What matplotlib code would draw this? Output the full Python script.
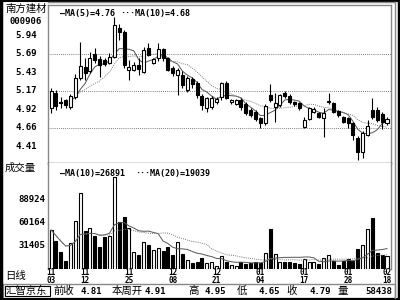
import matplotlib
matplotlib.use('Agg')
import matplotlib.pyplot as plt
import numpy as np
import pandas as pd
from matplotlib.patches import Rectangle
from matplotlib.lines import Line2D

# ---------------- data ----------------
stock_name = "南方建材"
stock_code = "000906"
date_idx = [0, 7, 16, 25, 34, 43, 52, 61, 69]
date_labels = ["11\n03", "11\n12", "11\n25", "12\n08", "12\n21",
               "01\n04", "01\n17", "01\n28", "02\n18"]

opens = [4.94, 5.15, 5.03, 5.05, 4.96, 5.09, 5.36, 5.51, 5.45, 5.69,
         5.62, 5.61, 5.57, 5.65, 6.05, 5.99, 5.47, 5.47, 5.54, 5.44,
         5.77, 5.57, 5.63, 5.76, 5.63, 5.50, 5.40, 5.40, 5.19, 5.34,
         5.29, 5.11, 4.94, 4.96, 5.03, 5.09, 5.29, 5.02, 5.00, 5.05,
         5.00, 4.91, 4.89, 4.80, 4.73, 5.12, 4.96, 4.98, 5.15, 5.11,
         5.02, 5.01, 4.68, 4.79, 4.89, 4.87, 4.80, 5.02, 5.01, 4.90,
         4.81, 4.80, 4.73, 4.52, 4.33, 4.57, 4.91, 4.91, 4.86, 4.73]
closes = [5.18, 4.97, 5.01, 4.98, 5.11, 5.36, 5.53, 5.43, 5.63, 5.61,
          5.54, 5.55, 5.65, 6.09, 5.99, 5.54, 5.51, 5.54, 5.48, 5.75,
          5.68, 5.62, 5.76, 5.63, 5.47, 5.43, 5.47, 5.26, 5.36, 5.27,
          5.12, 4.98, 5.08, 5.08, 5.06, 5.29, 5.08, 5.05, 5.05, 4.95,
          4.87, 4.84, 4.79, 4.73, 4.97, 5.05, 5.01, 5.12, 5.11, 5.02,
          4.99, 4.94, 4.78, 4.94, 4.93, 4.82, 4.87, 5.04, 4.89, 4.84,
          4.75, 4.73, 4.57, 4.33, 4.59, 4.69, 4.81, 4.78, 4.75, 4.79]
highs = [5.22, 5.19, 5.09, 5.07, 5.14, 5.41, 5.86, 5.64, 5.72, 5.77,
         5.66, 5.63, 5.70, 6.20, 6.11, 6.02, 5.61, 5.58, 5.63, 5.79,
         5.84, 5.64, 5.84, 5.78, 5.65, 5.52, 5.50, 5.45, 5.38, 5.37,
         5.31, 5.13, 5.10, 5.11, 5.09, 5.30, 5.32, 5.07, 5.07, 5.08,
         5.02, 4.94, 4.91, 4.82, 4.99, 5.27, 5.15, 5.14, 5.17, 5.13,
         5.04, 5.03, 4.81, 4.96, 4.95, 4.89, 4.94, 5.15, 5.03, 4.92,
         4.83, 4.82, 4.75, 4.55, 4.62, 4.77, 5.08, 4.95, 4.88, 4.82]
lows = [4.87, 4.91, 4.94, 4.94, 4.93, 5.07, 5.33, 5.33, 5.43, 5.57,
        5.37, 5.52, 5.55, 5.63, 5.88, 5.50, 5.33, 5.45, 5.40, 5.43,
        5.66, 5.55, 5.60, 5.60, 5.45, 5.38, 5.12, 5.22, 5.16, 5.22,
        5.08, 4.91, 4.89, 4.93, 5.00, 5.05, 5.06, 4.99, 4.98, 4.92,
        4.84, 4.81, 4.76, 4.66, 4.71, 5.02, 4.75, 4.96, 5.08, 5.00,
        4.97, 4.92, 4.66, 4.77, 4.87, 4.80, 4.54, 5.00, 4.87, 4.82,
        4.73, 4.66, 4.50, 4.22, 4.25, 4.55, 4.79, 4.74, 4.65, 4.70]
volumes = [50160, 36400, 22650, 11400, 33900, 61400, 96400, 48900, 52660, 42660,
           28900, 41400, 42660, 116400, 60160, 66400, 52660, 22650, 18900, 35160,
           31400, 25150, 27650, 23900, 28900, 18900, 35160, 20150, 12650, 8900,
           10000, 15150, 8900, 10150, 5150, 17650, 10150, 6400, 5150, 10150,
           7650, 8900, 10150, 9500, 21400, 51400, 20150, 10150, 10150, 10150,
           9000, 7800, 14000, 10300, 10300, 7800, 15300, 19000, 11500, 6870,
           11200, 13700, 11200, 26400, 31400, 51400, 65170, 21400, 18900, 18138]

price_ticks = [5.948, 5.692, 5.435, 5.178, 4.922, 4.665, 4.408]
price_tick_labels = ["5.94", "5.69", "5.43", "5.17", "4.92", "4.66", "4.41"]
price_grid = [5.692, 5.178, 4.665]
vol_ticks = [88924, 60164, 31405]
vol_tick_labels = ["88924", "60164", "31405"]

# ---------------- layout helpers ----------------
W, H = 400, 300
fig = plt.figure(figsize=(4, 3), dpi=100)
fig.patch.set_facecolor('white')

def fx(x):
    return x / W

def fy(y):
    return 1 - y / H

L, R = 48, 391
ax = fig.add_axes([fx(L), fy(163), (R - L) / W, (163 - 4.5) / H])
axv = fig.add_axes([fx(L), fy(269), (R - L) / W, (269 - 163) / H])

n = len(closes)
x = np.arange(n)
mono = dict(family='DejaVu Sans Mono', weight='bold', color='black')
cjk = dict(family=['Noto Sans CJK SC', 'DejaVu Sans'], color='black')

# ---------------- price panel ----------------
bw = 0.62
for i in range(n):
    o, c, h, l = opens[i], closes[i], highs[i], lows[i]
    up = c > o
    ax.vlines(i, l, h, color='black', lw=0.8, zorder=3, clip_on=False)
    bottom = min(o, c)
    height = abs(c - o)
    if height < 0.008:
        ax.hlines(o, i - bw / 2, i + bw / 2, color='black', lw=1.0, zorder=4)
    else:
        ax.add_patch(Rectangle((i - bw / 2, bottom), bw, height,
                               facecolor='white' if up else 'black',
                               edgecolor='black', lw=0.8, zorder=4))

cs = pd.Series(closes)
ma5 = cs.rolling(5).mean()
ma10 = cs.rolling(10, min_periods=5).mean()
ax.plot(x, ma5, color='#555555', lw=0.7, zorder=2)
ax.plot(x, ma10, color='#777777', lw=0.7, ls=(0, (1, 1.2)), zorder=2)

for g in price_grid:
    ax.axhline(g, color='#555555', lw=0.6, ls=(0, (1, 1.5)), zorder=1)

ax.set_xlim(-0.62, 69.82)
ax.set_ylim(4.178, 6.377)
ax.set_xticks([])
ax.set_yticks([])
for s in ['left', 'top', 'right']:
    ax.spines[s].set_color('#888888')
    ax.spines[s].set_linewidth(1.0)
ax.spines['bottom'].set_color('#555555')
ax.spines['bottom'].set_linewidth(1.0)

for t, lab in zip(price_ticks, price_tick_labels):
    yy = ax.transData.transform((0, t))[1]
    fig.text(fx(37), yy / H, lab, ha='right', va='center', fontsize=6.5, **mono)

ax.text(0.035, 0.945, "\u2014MA(5)=%.2f" % ma5.iloc[-1], transform=ax.transAxes,
        fontsize=6, ha='left', va='center', **mono)
ax.text(0.21, 0.945, "\u00b7\u00b7\u00b7MA(10)=%.2f" % ma10.iloc[-1], transform=ax.transAxes,
        fontsize=6, ha='left', va='center', **mono)

# ---------------- volume panel ----------------
for i in range(n):
    up = closes[i] > opens[i]
    axv.add_patch(Rectangle((i - bw / 2, 0), bw, volumes[i],
                            facecolor='white' if up else 'black',
                            edgecolor='black', lw=0.8, zorder=3))
vs = pd.Series(volumes, dtype=float)
vma10 = vs.rolling(10, min_periods=1).mean()
vma20 = vs.rolling(20, min_periods=1).mean()
axv.plot(x, vma10, color='#555555', lw=0.7, zorder=4)
axv.plot(x, vma20, color='#777777', lw=0.7, ls=(0, (1, 1.2)), zorder=4)

axv.set_xlim(-0.62, 69.82)
axv.set_ylim(1395, 133940)
axv.set_xticks([])
axv.set_yticks([])
axv.spines['top'].set_visible(False)
axv.spines['bottom'].set_visible(False)
for s in ['left', 'right']:
    axv.spines[s].set_color('#888888')
    axv.spines[s].set_linewidth(1.0)

for t, lab in zip(vol_ticks, vol_tick_labels):
    yy = axv.transData.transform((0, t))[1]
    fig.text(fx(45), yy / H, lab, ha='right', va='center', fontsize=6.5, **mono)

axv.text(0.035, 0.9, "\u2014MA(10)=%d" % round(vma10.iloc[-1]), transform=axv.transAxes,
         fontsize=6, ha='left', va='center', **mono)
axv.text(0.255, 0.9, "\u00b7\u00b7\u00b7MA(20)=%d" % round(vma20.iloc[-1]), transform=axv.transAxes,
         fontsize=6, ha='left', va='center', **mono)

# date labels
for i, lab in zip(date_idx, date_labels):
    xx = axv.transData.transform((i, 0))[0]
    fig.text(xx / W, fy(276.5), lab, ha='center', va='center', fontsize=5.5,
             linespacing=0.85, **mono)

# left labels
fig.text(fx(5), fy(9), stock_name, ha='left', va='center', fontsize=7.5, **cjk)
fig.text(fx(9), fy(21), stock_code, ha='left', va='center', fontsize=6.5, **mono)
fig.text(fx(5), fy(168), "成交量", ha='left', va='center', fontsize=7.5, **cjk)
fig.text(fx(5), fy(276), "日线", ha='left', va='center', fontsize=7.5, **cjk)

# bottom info bar
prev_close = closes[-4]
week_open = opens[-3]
week_high = max(highs[-3:])
week_low = min(lows[-3:])
week_close = closes[-1]
week_vol = sum(volumes[-3:])

fig.add_artist(Rectangle((fx(3), fy(298)), (395 - 3) / W, (298 - 284) / H,
                         transform=fig.transFigure, fill=False, edgecolor='#888888', lw=1.0))
fig.add_artist(Rectangle((fx(5), fy(296)), (50 - 5) / W, (296 - 286) / H,
                         transform=fig.transFigure, fill=False, edgecolor='black', lw=0.8))
yb = fy(291)
fig.text(fx(6), yb, "汇智京东", ha='left', va='center', fontsize=7.5, **cjk)
fig.text(fx(53), yb, "前收", ha='left', va='center', fontsize=7.5, **cjk)
fig.text(fx(102), yb, "%.2f" % prev_close, ha='right', va='center', fontsize=6.5, **mono)
fig.text(fx(112), yb, "本周开", ha='left', va='center', fontsize=7.5, **cjk)
fig.text(fx(166), yb, "%.2f" % week_open, ha='right', va='center', fontsize=6.5, **mono)
fig.text(fx(188), yb, "高", ha='left', va='center', fontsize=7.5, **cjk)
fig.text(fx(226), yb, "%.2f" % week_high, ha='right', va='center', fontsize=6.5, **mono)
fig.text(fx(237), yb, "低", ha='left', va='center', fontsize=7.5, **cjk)
fig.text(fx(280), yb, "%.2f" % week_low, ha='right', va='center', fontsize=6.5, **mono)
fig.text(fx(286), yb, "收", ha='left', va='center', fontsize=7.5, **cjk)
fig.text(fx(331), yb, "%.2f" % week_close, ha='right', va='center', fontsize=6.5, **mono)
fig.text(fx(337), yb, "量", ha='left', va='center', fontsize=7.5, **cjk)
fig.text(fx(392), yb, "%d" % week_vol, ha='right', va='center', fontsize=6.5, **mono)

# outer frame
fig.add_artist(Line2D([fx(1), fx(1)], [0, 1], transform=fig.transFigure, color='black', lw=2.5))
fig.add_artist(Line2D([fx(398.5), fx(398.5)], [0, 1], transform=fig.transFigure, color='black', lw=2.5))
fig.add_artist(Line2D([0, 1], [fy(0.6), fy(0.6)], transform=fig.transFigure, color='black', lw=1.5))
fig.add_artist(Line2D([0, 1], [fy(299.4), fy(299.4)], transform=fig.transFigure, color='black', lw=1.5))
fig.add_artist(Line2D([fx(394.5), fx(394.5)], [fy(298), fy(2)], transform=fig.transFigure, color='#888888', lw=1.0))
fig.add_artist(Line2D([fx(L), fx(394.5)], [fy(2), fy(2)], transform=fig.transFigure, color='#888888', lw=1.0))

fig.savefig('out.png', dpi=100, facecolor='white')
